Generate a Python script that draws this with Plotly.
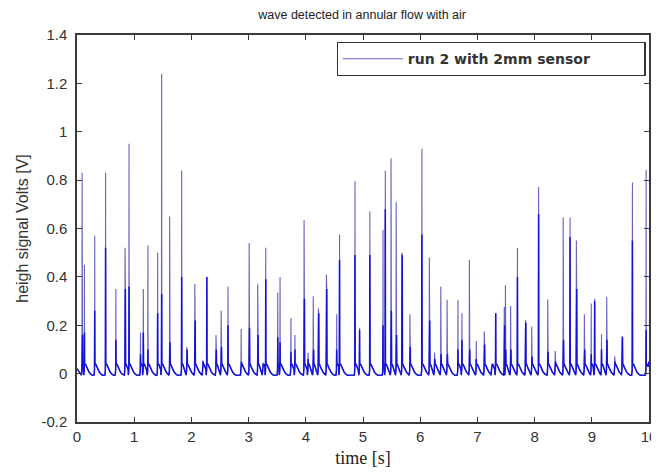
import plotly.graph_objects as go

# ---- data ----
spike_time = [0.09, 0.13, 0.31, 0.50, 0.68, 0.84, 0.91, 1.11, 1.16, 1.24,
              1.41, 1.48, 1.62, 1.83, 1.92, 2.06, 2.20, 2.27, 2.43, 2.52,
              2.64, 2.87, 3.01, 3.16, 3.25, 3.30, 3.51, 3.55, 3.74, 3.81,
              3.97, 4.04, 4.13, 4.22, 4.36, 4.54, 4.59, 4.86, 4.94, 5.12,
              5.35, 5.39, 5.49, 5.58, 5.68, 5.82, 6.03, 6.16, 6.25, 6.36,
              6.47, 6.66, 6.73, 6.86, 6.98, 7.12, 7.25, 7.32, 7.47, 7.49,
              7.58, 7.70, 7.84, 7.95, 8.07, 8.23, 8.36, 8.50, 8.62, 8.73,
              8.87, 8.99, 9.05, 9.17, 9.26, 9.40, 9.53, 9.71, 9.95]
spike_peak = [0.83, 0.45, 0.57, 0.83, 0.35, 0.52, 0.95, 0.17, 0.35, 0.53,
              0.50, 1.24, 0.65, 0.84, 0.11, 0.37, 0.055, 0.40, 0.16, 0.26,
              0.36, 0.185, 0.54, 0.37, 0.045, 0.52, 0.335, 0.40, 0.23, 0.16,
              0.635, 0.087, 0.32, 0.27, 0.41, 0.245, 0.575, 0.795, 0.19, 0.67,
              0.595, 0.84, 0.89, 0.71, 0.50, 0.245, 0.93, 0.48, 0.087, 0.36,
              0.305, 0.305, 0.25, 0.47, 0.135, 0.175, 0.04, 0.25, 0.275, 0.365,
              0.28, 0.52, 0.222, 0.195, 0.772, 0.307, 0.093, 0.645, 0.645, 0.55,
              0.245, 0.29, 0.31, 0.163, 0.318, 0.072, 0.155, 0.79, 0.843]
spike_inner = [0.16, 0.17, 0.26, 0.52, 0.14, 0.35, 0.36, 0.08, 0.17, 0.10,
               0.25, 0.33, 0.13, 0.40, 0.10, 0.22, 0.05, 0.40, 0.10, 0.11,
               0.20, 0.05, 0.19, 0.16, 0.04, 0.39, 0.15, 0.13, 0.09, 0.10,
               0.31, 0.06, 0.10, 0.25, 0.35, 0.10, 0.47, 0.49, 0.18, 0.49,
               0.20, 0.68, 0.26, 0.16, 0.49, 0.11, 0.575, 0.22, 0.06, 0.08,
               0.08, 0.10, 0.14, 0.10, 0.06, 0.12, 0.03, 0.25, 0.20, 0.10,
               0.10, 0.40, 0.21, 0.07, 0.66, 0.09, 0.05, 0.14, 0.565, 0.35,
               0.10, 0.08, 0.30, 0.10, 0.14, 0.05, 0.15, 0.55, 0.18]

# waveform around each spike: (time offset, level); None -> peak value
shape_offsets = [-0.012, -0.004, 0.0, 0.003, 0.006, 0.010, 0.02, 0.035,
                 0.055, 0.08, 0.11]
shape_levels = [-0.006, 0.015, None, 0.035, "inner", 0.04, 0.038, 0.028,
                0.016, 0.006, -0.002]
baseline_level = -0.007
t_start, t_end = 0.0, 10.0

series_name = "run 2 with 2mm sensor"
y_tickvals = [-0.2, 0, 0.2, 0.4, 0.6, 0.8, 1.0, 1.2, 1.4]
y_ticktext = ["-0.2", "0", "0.2", "0.4", "0.6", "0.8", "1", "1.2", "1.4"]
x_tickvals = [0, 1, 2, 3, 4, 5, 6, 7, 8, 9, 10]


def build(use_inner_as_peak):
    xs, ys = [t_start], [0.02]
    for i, t in enumerate(spike_time):
        nxt = spike_time[i + 1] - 0.012 if i + 1 < len(spike_time) else t_end
        for off, lev in zip(shape_offsets, shape_levels):
            x = t + off
            if off > 0 and x >= nxt:
                break
            if x <= xs[-1]:
                continue
            if lev is None:
                v = spike_inner[i] if use_inner_as_peak else spike_peak[i]
            elif lev == "inner":
                v = spike_inner[i]
            else:
                v = lev
            xs.append(x)
            ys.append(v)
        if nxt - (t + 0.11) > 0.03:
            xs.append(t + 0.14)
            ys.append(baseline_level)
    xs.append(t_end)
    ys.append(0.05)
    return xs, ys


x_full, y_full = build(False)
x_low, y_low = build(True)

fig = go.Figure()
fig.add_trace(go.Scatter(x=x_full, y=y_full, mode="lines",
                         # trailing no-break spaces widen the legend box
                         name=series_name + "\u00a0" * 10,
                         line=dict(color="#6464c2", width=1.1)))
fig.add_trace(go.Scatter(x=x_low, y=y_low, mode="lines", showlegend=False,
                         hoverinfo="skip",
                         line=dict(color="#1212d8", width=1.5)))

axis_common = dict(showline=True, linecolor="#3a3a3a", linewidth=1.5,
                   mirror="ticks", ticks="inside", ticklen=5,
                   tickcolor="#3a3a3a", showgrid=False, zeroline=False,
                   automargin=False,
                   tickfont=dict(family="Liberation Sans, Arial", size=15,
                                 color="#333333"))

# the page body adds an 8 px offset, so the figure is 8 px smaller
fig.update_layout(
    width=651, height=465,
    margin=dict(l=69, r=10, t=27, b=51),
    paper_bgcolor="white", plot_bgcolor="white",
    title=dict(text="wave detected in annular flow with air",
               x=0.544, xanchor="center", y=0.985, yanchor="middle",
               automargin=False,
               font=dict(family="Liberation Sans, Arial", size=12.5,
                         color="#222222")),
    xaxis=dict(range=[0, 10], tickvals=x_tickvals,
               title=dict(text="time [s]", standoff=8,
                          font=dict(family="Liberation Serif, Times New Roman",
                                    size=18, color="#222222")),
               **axis_common),
    yaxis=dict(range=[-0.2, 1.4], tickvals=y_tickvals, ticktext=y_ticktext,
               ticklabelstandoff=5,
               title=dict(text="heigh signal Volts [V]", standoff=9,
                          font=dict(family="Liberation Sans, Arial", size=16,
                                    color="#333333")),
               **axis_common),
    legend=dict(x=0.4538, y=0.982, xanchor="left", yanchor="top",
                bgcolor="white", bordercolor="#333333", borderwidth=1.2,
                itemwidth=60,
                font=dict(family="DejaVu Sans", size=14, color="#333333",
                          weight="bold")),
)

fig.write_html("out.html")
